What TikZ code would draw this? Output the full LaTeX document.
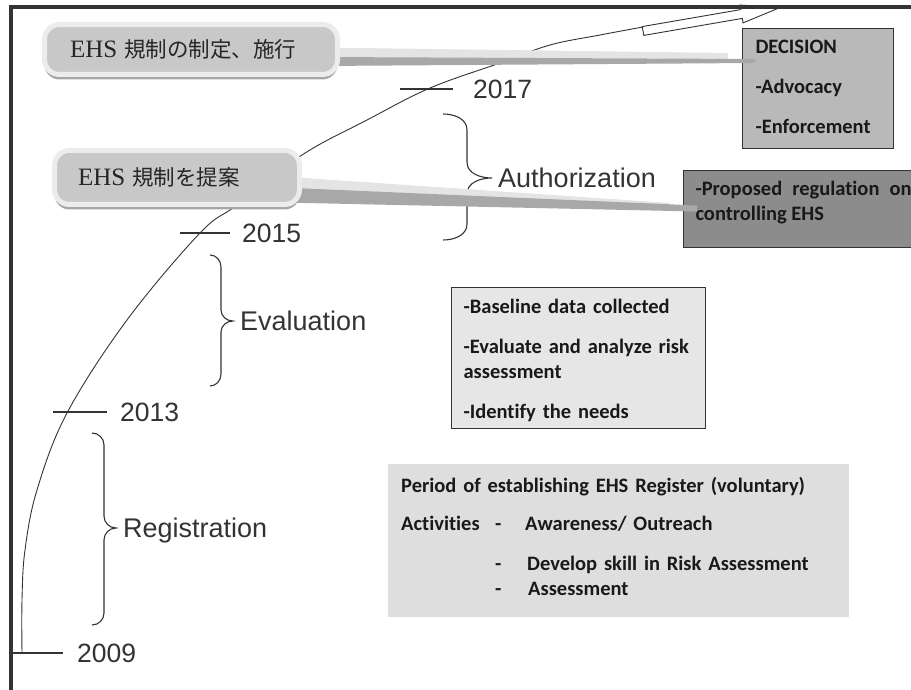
\documentclass[tikz,border=0pt]{standalone}
\usepackage{fontspec}
\setmainfont{Liberation Sans}
\newfontfamily\cjk{Noto Sans CJK JP}
\newfontfamily\romanfont{Liberation Serif}
\newfontfamily\boxfont{Carlito}[Ligatures=NoCommon]
\usetikzlibrary{positioning,shadows}
\pgfdeclarelayer{front}
\pgfsetlayers{main,front}
\definecolor{ink}{HTML}{333333}
\definecolor{decgray}{HTML}{B9B9B9}
\definecolor{propgray}{HTML}{8C8C8C}
\definecolor{basegray}{HTML}{E6E6E6}
\definecolor{reggray}{HTML}{DEDEDE}
\definecolor{calgray}{HTML}{C8C8C8}
\definecolor{calrim}{HTML}{ECECEC}
\definecolor{calshade}{HTML}{A6A6A6}
\definecolor{taillight}{HTML}{E4E4E4}
\definecolor{taildark}{HTML}{A8A8A8}
\newcommand{\ehs}{{\romanfont\fontsize{25}{26}\selectfont EHS}}

\begin{document}
\begin{tikzpicture}[x=1pt, y=-1pt,
  year/.style={font=\fontsize{26.5}{30}\selectfont, text=ink, inner sep=0pt, text height=19pt, text depth=0pt},
  phase/.style={year, font=\fontsize{27}{30}\selectfont, text height=19.5pt},
  tick/.style={draw=ink, line width=1.3pt},
  brace/.style={draw=ink, line width=1.1pt},
  infobox/.style={font=\boxfont\bfseries\fontsize{20.5}{25}\selectfont, text=black!90, inner sep=0pt, anchor=north west, align=left},
  callout/.style={rounded corners=15pt, line width=5pt, draw=calrim, fill=calgray, inner sep=0pt, text=black!85, align=left,
    font=\cjk\fontsize{21.5}{26}\selectfont, drop shadow={shadow xshift=0pt, shadow yshift=-5pt, fill=calshade, opacity=1}},
]
\useasboundingbox (0,0) rectangle (911,690);
\clip (0,0) rectangle (911,690);

% time line
\draw[ink, line width=0.9pt] plot[smooth, tension=0.6] coordinates {(22,653) (22,600) (25,550) (37,490) (67,413) (127,320) (200,233) (237,205) (302,155) (367,120) (430,88) (500,63) (550,45) (600,35) (643,27)};
\draw[ink, line width=0.9pt, fill=white] (642.2,26.6) -- (740.7,9.6) -- (740,5.1) -- (780.9,7.2) -- (743,22.9) -- (742.3,18.4) -- (643.8,35.4) -- cycle;

% years
\draw[tick] (12,653) -- (63,653) coordinate (t09);
\node[year, right=14pt of t09] (y09) {2009};
\draw[tick] (53,412) -- (107,412) coordinate (t13);
\node[year, right=13pt of t13] (y13) {2013};
\draw[tick] (180,233) -- (230,233) coordinate (t15);
\node[year, right=12pt of t15] (y15) {2015};
\draw[tick] (400,89) -- (453,89) coordinate (t17);
\node[year, right=20pt of t17] (y17) {2017};

% phases
\draw[brace] (92,433) to[out=0,in=90] (104,445) -- (104,516) to[out=-90,in=180] (116,528) coordinate (regtip)
  to[out=180,in=90] (104,540) -- (104,613) to[out=-90,in=0] (92,625);
\node[phase, right=7pt of regtip] (reg) {Registration};
\draw[brace] (210,255) to[out=0,in=90] (221,267) -- (221,310) to[out=-90,in=180] (233,321) coordinate (evaltip)
  to[out=180,in=90] (221,332) -- (221,374) to[out=-90,in=0] (210,386);
\node[phase, right=7pt of evaltip] (eval) {Evaluation};
\draw[brace] (443,114) to[out=0,in=90] (467,130) -- (467,162) to[out=-90,in=180] (492,178) coordinate (authtip)
  to[out=180,in=90] (467,194) -- (467,224) to[out=-90,in=0] (443,240);
\node[phase, right=6pt of authtip] (auth) {Authorization};

% boxes
\node[infobox, fill=decgray, draw=ink, line width=1pt, minimum width=151pt, minimum height=120pt, text width=125pt,
  font=\boxfont\bfseries\fontsize{20.5}{40}\selectfont, text depth=82.6pt] (decision) at (742,28) {DECISION\\-Advocacy\\-Enforcement};
\node[infobox, fill=propgray, draw=ink, line width=1pt, minimum width=240pt, minimum height=77pt, text width=216pt,
  align=justify, text depth=41pt] (prop) at (683,170) {-Proposed regulation on controlling EHS};
\node[infobox, fill=basegray, draw=ink, line width=1.2pt, minimum width=254pt, minimum height=141pt, text width=230pt,
  text depth=104pt] (baseline) at (451,287) {-Baseline data collected\\[15pt]-Evaluate and analyze risk\\assessment\\[15pt]-Identify the needs};
\node[infobox, fill=reggray, minimum width=461pt, minimum height=153pt, text width=435pt, text depth=112.6pt] (register) at (388,464)
  {Period of establishing EHS Register (voluntary)\\[13pt]
   \makebox[94pt][l]{Activities}\makebox[30pt][l]{-}Awareness/ Outreach\\[15pt]
   \makebox[94pt][l]{}\makebox[32pt][l]{-}Develop skill in Risk Assessment\\
   \makebox[94pt][l]{}\makebox[33pt][l]{-}Assessment};

% callouts
\begin{pgfonlayer}{front}
\node[callout, minimum width=293pt, minimum height=50pt, text width=242pt] (call1) at (191,49.5) {\ehs\ 規制の制定、施行};
\node[callout, minimum width=245pt, minimum height=54pt, text width=198pt] (call2) at (177,177.5) {\ehs\ 規制を提案};
\end{pgfonlayer}
\coordinate (tip1) at (755,61);
\coordinate (tip2) at (697,208.5);
\fill[taillight] ([xshift=-20pt, yshift=2pt]call1.east) -- ([xshift=-27pt, yshift=8pt]tip1) -- ([xshift=-27pt, yshift=2pt]tip1) -- ([xshift=-20pt, yshift=-8pt]call1.east) -- cycle;
\fill[taildark] ([xshift=-20pt, yshift=-7.5pt]call1.east) -- ([yshift=2pt]tip1) -- ([yshift=-2pt]tip1) -- ([xshift=-20pt, yshift=-16.5pt]call1.east) -- cycle;
\fill[taillight] ([xshift=-20pt, yshift=1pt]call2.east) -- ([xshift=-27pt, yshift=5.5pt]tip2) -- ([xshift=-27pt, yshift=1.5pt]tip2) -- ([xshift=-20pt, yshift=-10.5pt]call2.east) -- cycle;
\fill[taildark] ([xshift=-20pt, yshift=-10pt]call2.east) -- ([yshift=3pt]tip2) -- ([yshift=-3pt]tip2) -- ([xshift=-20pt, yshift=-25pt]call2.east) -- cycle;

% frame
\begin{pgfonlayer}{front}
\draw[ink, line width=3.5pt] (11,690) -- (11,7) -- (911,7);
\end{pgfonlayer}
\end{tikzpicture}
\end{document}
